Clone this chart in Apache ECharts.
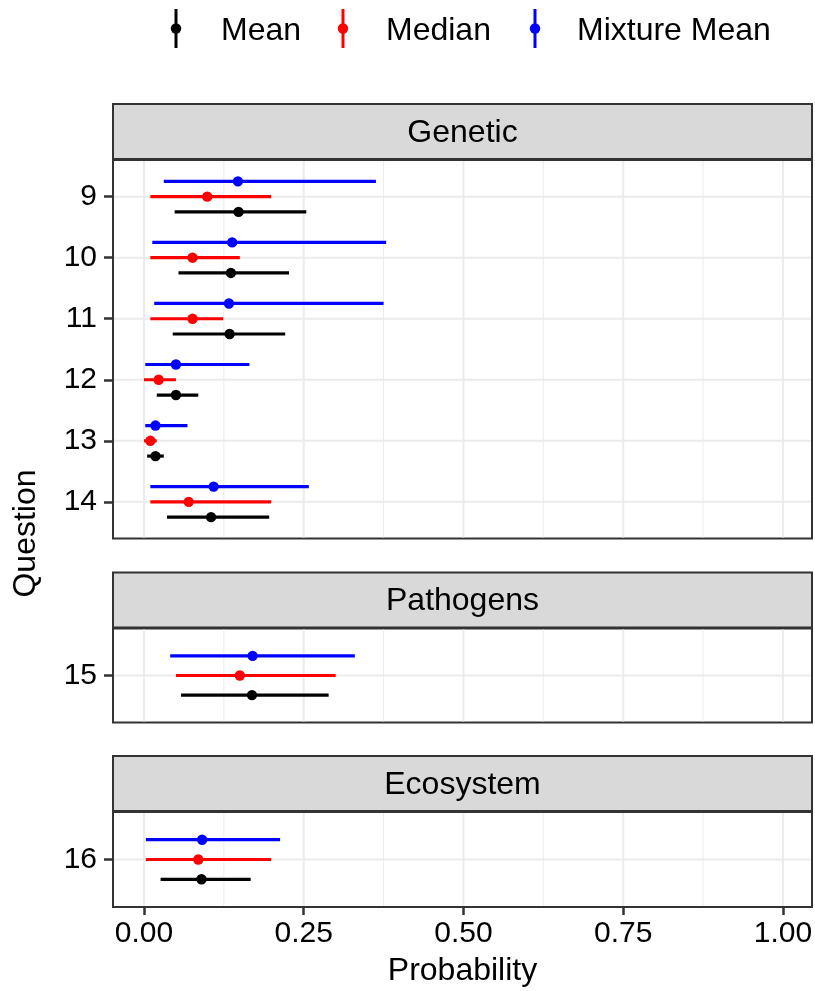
<!DOCTYPE html>
<html>
<head>
<meta charset="utf-8">
<script src="https://cdn.jsdelivr.net/npm/echarts@6/dist/echarts.min.js"></script>
<style>
  html, body { margin: 0; padding: 0; background: #ffffff; }
  #chart { width: 815px; height: 991px; }
</style>
</head>
<body>
<div id="chart"></div>
<script>
// Facets and the questions each one holds
const facetNames = ['Genetic', 'Pathogens', 'Ecosystem'];
const facetQuestions = [[9, 10, 11, 12, 13, 14], [15], [16]];

// Per-question estimates (questions 9..16): point value and interval bounds
const questions = [9, 10, 11, 12, 13, 14, 15, 16];

const meanValue = [0.148, 0.136, 0.134, 0.050, 0.018, 0.105, 0.169, 0.090];
const meanLow   = [0.048, 0.054, 0.045, 0.020, 0.005, 0.036, 0.058, 0.026];
const meanHigh  = [0.254, 0.227, 0.221, 0.085, 0.031, 0.196, 0.289, 0.167];

const medianValue = [0.099, 0.076, 0.076, 0.023, 0.010, 0.070, 0.150, 0.085];
const medianLow   = [0.010, 0.010, 0.010, 0.000, 0.000, 0.010, 0.050, 0.003];
const medianHigh  = [0.199, 0.150, 0.124, 0.050, 0.020, 0.199, 0.300, 0.199];

const mixtureValue = [0.147, 0.138, 0.133, 0.050, 0.018, 0.109, 0.170, 0.091];
const mixtureLow   = [0.031, 0.013, 0.016, 0.002, 0.002, 0.010, 0.041, 0.003];
const mixtureHigh  = [0.363, 0.379, 0.375, 0.165, 0.068, 0.258, 0.330, 0.213];

// Probability axis ticks and minor grid positions
const xTicks = [0, 0.25, 0.5, 0.75, 1];
const xMinorGrid = [0.125, 0.375, 0.625, 0.875];

// Series styling; shift is the vertical dodge in question units
const stats = [
  { name: 'Mean',         color: '#000000', value: meanValue,    low: meanLow,    high: meanHigh,    shift: 0.25 },
  { name: 'Median',       color: '#FF0000', value: medianValue,  low: medianLow,  high: medianHigh,  shift: 0 },
  { name: 'Mixture Mean', color: '#0000FF', value: mixtureValue, low: mixtureLow, high: mixtureHigh, shift: -0.25 }
];

// Panel geometry
const FONT = "'Liberation Sans', Arial, Helvetica, sans-serif";
const TEXT = '#000000';
const BORDER = '#333333';
const plotLeft = 113, plotWidth = 699;
const xMin = -0.0485, xMax = 1.0455;
const stripHeight = 55;
const panels = [
  { top: 160,   height: 378.5, yMin: 8.4,  yMax: 14.6 },
  { top: 628.5, height: 94,    yMin: 14.4, yMax: 15.6 },
  { top: 812,   height: 95,    yMin: 15.4, yMax: 16.6 }
];

function intervalRenderer(shift, color) {
  return function (params, api) {
    const y = api.value(0) + shift;
    const a = api.coord([api.value(1), y]);
    const b = api.coord([api.value(2), y]);
    const c = api.coord([api.value(3), y]);
    return {
      type: 'group',
      children: [
        { type: 'line', shape: { x1: a[0], y1: a[1], x2: b[0], y2: b[1] },
          style: { stroke: color, lineWidth: 3.2, lineCap: 'butt' } },
        { type: 'circle', shape: { cx: c[0], cy: c[1], r: 5.2 }, style: { fill: color } }
      ]
    };
  };
}

function verticalGridRenderer(params, api) {
  const cs = params.coordSys;
  const x = api.coord([api.value(0), api.value(1)])[0];
  const major = xTicks.indexOf(api.value(0)) >= 0;
  return { type: 'line', shape: { x1: x, y1: cs.y + 1, x2: x, y2: cs.y + cs.height - 1 },
           style: { stroke: '#EBEBEB', lineWidth: major ? 2 : 1 } };
}

function horizontalGridRenderer(params, api) {
  const cs = params.coordSys;
  const y = api.coord([0, api.value(0)])[1];
  return { type: 'line', shape: { x1: cs.x + 1, y1: y, x2: cs.x + cs.width - 1, y2: y },
           style: { stroke: '#EBEBEB', lineWidth: 2 } };
}

const grids = [], xAxes = [], yAxes = [], series = [], graphics = [];

panels.forEach(function (p, f) {
  const last = f === panels.length - 1;
  grids.push({
    left: plotLeft, top: p.top, width: plotWidth, height: p.height,
    show: true, backgroundColor: '#ffffff', borderColor: BORDER, borderWidth: 2,
    outerBoundsMode: 'none'
  });
  xAxes.push({
    gridIndex: f, type: 'value', min: xMin, max: xMax, position: 'bottom',
    axisLine: { show: false, onZero: false }, splitLine: { show: false },
    axisTick: { show: last, customValues: xTicks, length: 8, lineStyle: { color: BORDER, width: 2.5 } },
    axisLabel: { show: last, customValues: xTicks, formatter: function (v) { return v.toFixed(2); },
                 fontSize: 30, fontFamily: FONT, color: TEXT, margin: 12 },
    name: last ? 'Probability' : '', nameLocation: 'middle', nameGap: 48,
    nameTextStyle: { fontSize: 32, fontFamily: FONT, color: TEXT }
  });
  yAxes.push({
    gridIndex: f, type: 'value', inverse: true, min: p.yMin, max: p.yMax, position: 'left',
    axisLine: { show: false, onZero: false }, splitLine: { show: false },
    axisTick: { show: true, customValues: facetQuestions[f], length: 9, lineStyle: { color: BORDER, width: 2.5 } },
    axisLabel: { customValues: facetQuestions[f], fontSize: 30, fontFamily: FONT, color: TEXT, margin: 16 }
  });

  // Background grid lines
  series.push({
    type: 'custom', xAxisIndex: f, yAxisIndex: f, z: 1, silent: true,
    renderItem: verticalGridRenderer,
    encode: { x: 0, y: 1 },
    data: xTicks.concat(xMinorGrid).map(function (v) { return [v, p.yMin]; })
  });
  series.push({
    type: 'custom', xAxisIndex: f, yAxisIndex: f, z: 1, silent: true,
    renderItem: horizontalGridRenderer,
    encode: { x: 1, y: 0 },
    data: facetQuestions[f].map(function (q) { return [q, 0]; })
  });

  // Interval estimates
  stats.forEach(function (s) {
    series.push({
      type: 'custom', name: s.name, xAxisIndex: f, yAxisIndex: f, z: 3,
      renderItem: intervalRenderer(s.shift, s.color),
      encode: { x: [1, 2, 3], y: 0 },
      data: facetQuestions[f].map(function (q) {
        const i = questions.indexOf(q);
        return [q, s.low[i], s.high[i], s.value[i]];
      })
    });
  });

  // Facet strip
  const stripTop = p.top - stripHeight - 1;
  graphics.push({
    type: 'rect', z: 10,
    shape: { x: plotLeft, y: stripTop, width: plotWidth, height: stripHeight },
    style: { fill: '#D9D9D9', stroke: BORDER, lineWidth: 2 }
  });
  graphics.push({
    type: 'text', z: 11, x: plotLeft + plotWidth / 2, y: stripTop + stripHeight / 2 + 1.5,
    style: { text: facetNames[f], fill: TEXT, font: '32px ' + FONT, align: 'center', verticalAlign: 'middle' }
  });
});

// Shared y-axis title
graphics.push({
  type: 'text', z: 11, x: 26, y: 533.5, rotation: Math.PI / 2,
  style: { text: 'Question', fill: TEXT, font: '32px ' + FONT, align: 'center', verticalAlign: 'middle' }
});

// Legend: point with vertical interval bar, followed by the label
const legendGlyphX = [176, 343, 535];
const legendTextX = [221, 386, 577];
stats.forEach(function (s, k) {
  graphics.push({ type: 'line', z: 11, shape: { x1: legendGlyphX[k], y1: 9, x2: legendGlyphX[k], y2: 48 },
                  style: { stroke: s.color, lineWidth: 3 } });
  graphics.push({ type: 'circle', z: 12, shape: { cx: legendGlyphX[k], cy: 28.5, r: 5.2 },
                  style: { fill: s.color } });
  graphics.push({ type: 'text', z: 11, x: legendTextX[k], y: 31,
                  style: { text: s.name, fill: TEXT, font: '32px ' + FONT, align: 'left', verticalAlign: 'middle' } });
});

const chart = echarts.init(document.getElementById('chart'), null, { renderer: 'canvas' });
chart.setOption({
  animation: false,
  backgroundColor: '#ffffff',
  grid: grids,
  xAxis: xAxes,
  yAxis: yAxes,
  series: series,
  graphic: graphics
});
</script>
</body>
</html>
